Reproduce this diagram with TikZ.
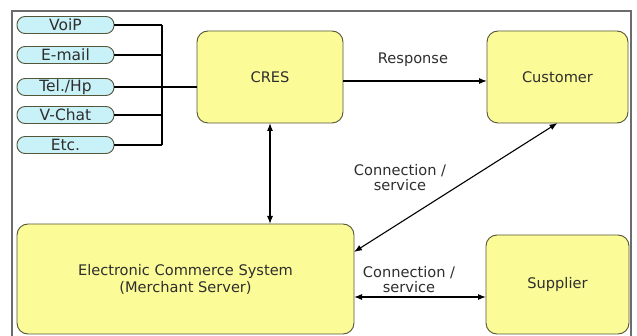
\documentclass[tikz,border=0pt]{standalone}
\usepackage{fontspec}
\setmainfont{DejaVu Sans}
\usetikzlibrary{arrows.meta}
\definecolor{boxyellow}{HTML}{FBFB97}
\definecolor{boxcyan}{HTML}{C8F2F8}
\definecolor{edgecol}{HTML}{55553A}
\definecolor{txtcol}{HTML}{2E2E2E}
\tikzset{
  bigbox/.style={draw=edgecol, line width=0.9pt, fill=boxyellow, rounded corners=11pt,
    inner sep=0pt, outer sep=0pt, align=center, text=txtcol, font=\fontsize{14.6}{17}\selectfont},
  chan/.style={draw=edgecol, line width=0.9pt, fill=boxcyan, rounded corners=8pt,
    minimum width=97pt, minimum height=17pt, inner sep=0pt, outer sep=0pt, text=txtcol,
    font=\fontsize{15.5}{16}\selectfont},
  conn/.style={line width=1.1pt, black},
  arr/.style={conn, -{Latex[length=8pt,width=6pt]}},
  darr/.style={conn, {Latex[length=8pt,width=6pt]}-{Latex[length=8pt,width=6pt]}},
  lbl/.style={align=center, text=txtcol, font=\fontsize{14.6}{15}\selectfont, inner sep=0pt}
}
\begin{document}
\begin{tikzpicture}[x=1pt,y=-1pt]
\useasboundingbox (0,0) rectangle (637,336);
\clip (0,0) rectangle (637,336);
\fill[white] (0,0) rectangle (637,336);
\draw[gray!85!black, line width=1.2pt] (12,11) rectangle (631,345);
% channel boxes
\node[chan] (voip) at (65.5,25) {VoiP};
\node[chan] (mail) at (65.5,55) {E-mail};
\node[chan] (tel)  at (65.5,87) {Tel./Hp};
\node[chan] (chat) at (65.5,115) {V-Chat};
\node[chan] (etc)  at (65.5,145) {Etc.};
% main boxes
\node[bigbox, minimum width=146pt, minimum height=92pt] (cres) at (270,77) {CRES};
\node[bigbox, minimum width=141pt, minimum height=92pt] (cust) at (557.5,77) {Customer};
\node[bigbox, minimum width=337pt, minimum height=110pt] (ecs) at (185.5,279) {Electronic Commerce System\\(Merchant Server)};
\node[bigbox, minimum width=143pt, minimum height=99pt] (supp) at (557.5,284.5) {Supplier};
% bus
\coordinate (bustop) at (162,25);
\coordinate (busbot) at (162,145);
\draw[conn] (bustop) -- (busbot);
\draw[conn] (voip.east) -- (voip.east -| bustop);
\draw[conn] (mail.east) -- (mail.east -| bustop);
\draw[conn] (chat.east) -- (chat.east -| bustop);
\draw[conn] (etc.east) -- (etc.east -| bustop);
\draw[conn] (tel.east) -- (tel.east -| cres.west);
% arrows
\draw[arr] ([yshift=-4pt]cres.east) -- ([yshift=-4pt]cust.west);
\draw[darr] (cres.south) -- (cres.south |- ecs.north);
\draw[darr] (cust.south) -- ([yshift=27pt]ecs.east);
\draw[darr] ([yshift=-12.5pt]supp.west) -- ([yshift=-12.5pt]supp.west -| ecs.east);
% labels
\node[lbl] (lresp) at (413,60) {Response};
\node[lbl] (lconn1) at (400,178) {Connection /\\service};
\node[lbl] (lconn2) at (409,280) {Connection /\\service};
\end{tikzpicture}
\end{document}
